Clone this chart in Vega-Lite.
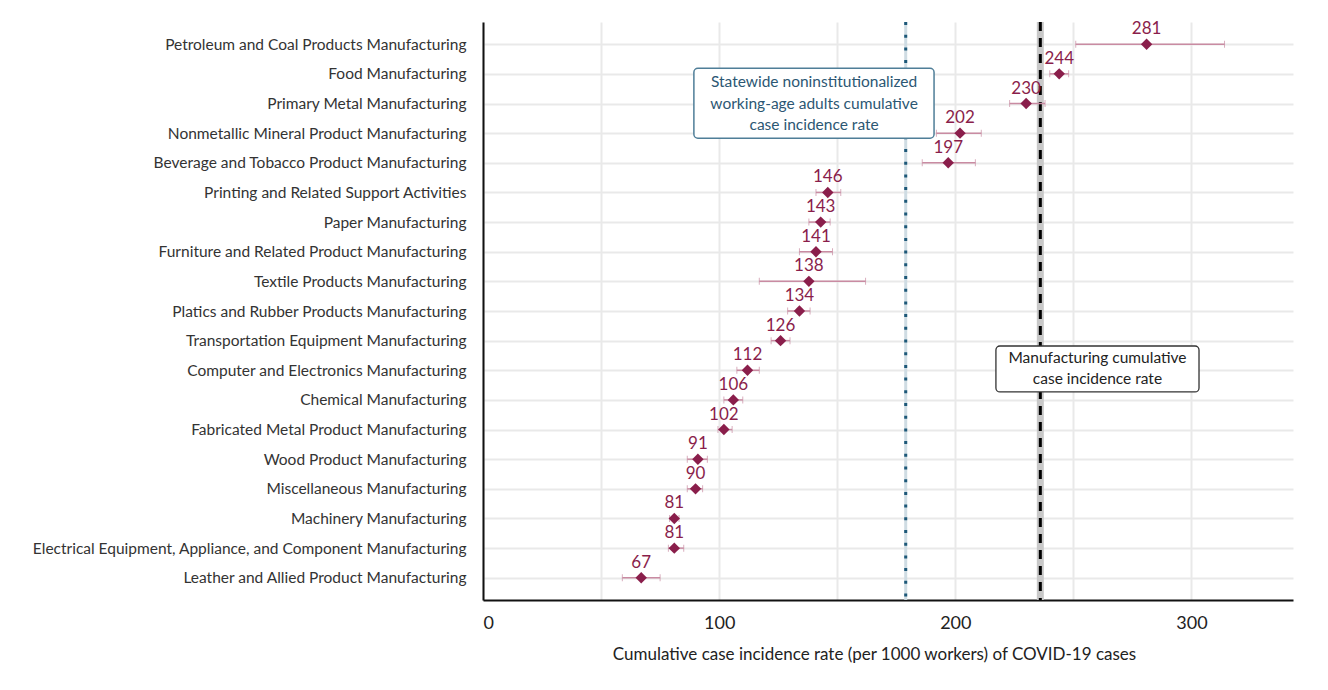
{
  "$schema": "https://vega.github.io/schema/vega-lite/v6.json",
  "autosize": "none",
  "width": 810,
  "height": 578,
  "padding": {"left": 483, "top": 22, "right": 35, "bottom": 90},
  "background": "white",
  "config": {
    "font": "Lato",
    "view": {"stroke": null}
  },
  "datasets": {
    "industries": [
      {"industry": "Petroleum and Coal Products Manufacturing", "rate": 281, "lo": 251, "hi": 314},
      {"industry": "Food Manufacturing", "rate": 244, "lo": 240, "hi": 248},
      {"industry": "Primary Metal Manufacturing", "rate": 230, "lo": 223, "hi": 238},
      {"industry": "Nonmetallic Mineral Product Manufacturing", "rate": 202, "lo": 192, "hi": 211},
      {"industry": "Beverage and Tobacco Product Manufacturing", "rate": 197, "lo": 186, "hi": 208.5},
      {"industry": "Printing and Related Support Activities", "rate": 146, "lo": 141, "hi": 151.5},
      {"industry": "Paper Manufacturing", "rate": 143, "lo": 138, "hi": 147},
      {"industry": "Furniture and Related Product Manufacturing", "rate": 141, "lo": 134, "hi": 148},
      {"industry": "Textile Products Manufacturing", "rate": 138, "lo": 117, "hi": 162},
      {"industry": "Platics and Rubber Products Manufacturing", "rate": 134, "lo": 129, "hi": 138.5},
      {"industry": "Transportation Equipment Manufacturing", "rate": 126, "lo": 122, "hi": 130},
      {"industry": "Computer and Electronics Manufacturing", "rate": 112, "lo": 107.5, "hi": 117},
      {"industry": "Chemical Manufacturing", "rate": 106, "lo": 102, "hi": 110},
      {"industry": "Fabricated Metal Product Manufacturing", "rate": 102, "lo": 99.5, "hi": 105.5},
      {"industry": "Wood Product Manufacturing", "rate": 91, "lo": 86.5, "hi": 95},
      {"industry": "Miscellaneous Manufacturing", "rate": 90, "lo": 86.5, "hi": 93},
      {"industry": "Machinery Manufacturing", "rate": 81, "lo": 79, "hi": 83},
      {"industry": "Electrical Equipment, Appliance, and Component Manufacturing", "rate": 81, "lo": 78.5, "hi": 85},
      {"industry": "Leather and Allied Product Manufacturing", "rate": 67, "lo": 59, "hi": 75}
    ],
    "refs": [
      {"name": "Statewide", "rate": 179},
      {"name": "Manufacturing", "rate": 236}
    ],
    "notes": [
      {"name": "Statewide", "label": "Statewide noninstitutionalized\nworking-age adults cumulative\ncase incidence rate", "xa": 89.3, "xb": 191, "ya": 0.81, "yb": 3.17, "tx": 140.2, "ty": 1.28},
      {"name": "Manufacturing", "label": "Manufacturing cumulative\ncase incidence rate", "xa": 217.2, "xb": 303.2, "ya": 10.18, "yb": 11.73, "tx": 260.2, "ty": 10.58}
    ]
  },
  "layer": [
    {
      "data": {"name": "refs"},
      "layer": [
        {
          "transform": [{"filter": "datum.name === 'Statewide'"}],
          "mark": {"type": "rule", "stroke": "#cfdce3", "strokeWidth": 3},
          "encoding": {
            "x": {"field": "rate", "type": "quantitative", "scale": {"domain": [0, 343], "nice": false, "zero": false},
              "title": "Cumulative case incidence rate (per 1000 workers) of COVID-19 cases",
              "axis": {"values": [0, 50, 100, 150, 200, 250, 300], "labelExpr": "datum.value % 100 === 0 ? datum.label : ''", "grid": true, "gridColor": "#e9e9e9", "gridWidth": 2, "ticks": false, "domainColor": "#111111", "domainWidth": 2, "labelFontSize": 18, "labelColor": "#222222", "labelPadding": 14, "labelFlush": true, "titleFontSize": 17, "titleFontWeight": "normal", "titleColor": "#222222", "titlePadding": 14, "titleX": 391}}
          }
        },
        {
          "transform": [{"filter": "datum.name === 'Statewide'"}],
          "mark": {"type": "rule", "stroke": "#1d5878", "strokeWidth": 3, "strokeDash": [3, 9.7]},
          "encoding": {
            "x": {"field": "rate", "type": "quantitative", "title": "Cumulative case incidence rate (per 1000 workers) of COVID-19 cases"}
          }
        },
        {
          "transform": [{"filter": "datum.name === 'Manufacturing'"}],
          "mark": {"type": "rule", "stroke": "#c8c8c8", "strokeWidth": 7},
          "encoding": {
            "x": {"field": "rate", "type": "quantitative", "title": "Cumulative case incidence rate (per 1000 workers) of COVID-19 cases"}
          }
        },
        {
          "transform": [{"filter": "datum.name === 'Manufacturing'"}],
          "mark": {"type": "rule", "stroke": "#000000", "strokeWidth": 3, "strokeDash": [9, 7]},
          "encoding": {
            "x": {"field": "rate", "type": "quantitative", "title": "Cumulative case incidence rate (per 1000 workers) of COVID-19 cases"}
          }
        }
      ]
    },
    {
      "data": {"name": "industries"},
      "encoding": {
        "y": {"field": "industry", "type": "nominal", "sort": null, "title": null,
          "scale": {"type": "point", "padding": 0.75},
          "axis": {"grid": true, "gridColor": "#e9e9e9", "gridWidth": 2, "ticks": false, "domainColor": "#111111", "domainWidth": 2, "labelFontSize": 15.5, "labelColor": "#333333", "labelPadding": 17, "labelLimit": 600}}
      },
      "layer": [
        {
          "mark": {"type": "errorbar", "ticks": {"size": 7, "strokeWidth": 1.5, "color": "#c98ba2"}, "rule": {"strokeWidth": 1.5, "color": "#c98ba2"}},
          "encoding": {
            "x": {"field": "lo", "type": "quantitative", "title": "Cumulative case incidence rate (per 1000 workers) of COVID-19 cases"},
            "x2": {"field": "hi"}
          }
        },
        {
          "mark": {"type": "point", "shape": "diamond", "filled": true, "size": 130, "color": "#8a1e4b", "opacity": 1},
          "encoding": {
            "x": {"field": "rate", "type": "quantitative", "title": "Cumulative case incidence rate (per 1000 workers) of COVID-19 cases"}
          }
        },
        {
          "mark": {"type": "text", "fontSize": 17, "color": "#8a1e4b", "baseline": "alphabetic", "dy": -10},
          "encoding": {
            "x": {"field": "rate", "type": "quantitative", "title": "Cumulative case incidence rate (per 1000 workers) of COVID-19 cases"},
            "text": {"field": "rate", "type": "quantitative", "format": "d"}
          }
        }
      ]
    },
    {
      "data": {"name": "notes"},
      "encoding": {
        "y": {"field": "ya", "type": "quantitative", "scale": {"domain": [-0.75, 18.75], "reverse": true, "nice": false, "zero": false}, "axis": null}
      },
      "layer": [
        {
          "transform": [{"filter": "datum.name === 'Statewide'"}],
          "mark": {"type": "rect", "fill": "white", "stroke": "#4f7e98", "strokeWidth": 1.5, "cornerRadius": 4},
          "encoding": {
            "x": {"field": "xa", "type": "quantitative", "title": "Cumulative case incidence rate (per 1000 workers) of COVID-19 cases"},
            "x2": {"field": "xb"},
            "y2": {"field": "yb"}
          }
        },
        {
          "transform": [{"filter": "datum.name === 'Manufacturing'"}],
          "mark": {"type": "rect", "fill": "white", "stroke": "#333333", "strokeWidth": 1.3, "cornerRadius": 4},
          "encoding": {
            "x": {"field": "xa", "type": "quantitative", "title": "Cumulative case incidence rate (per 1000 workers) of COVID-19 cases"},
            "x2": {"field": "xb"},
            "y2": {"field": "yb"}
          }
        },
        {
          "transform": [{"filter": "datum.name === 'Statewide'"}],
          "mark": {"type": "text", "lineBreak": "\n", "fontSize": 15.5, "lineHeight": 21.5, "color": "#2c5773", "align": "center", "baseline": "middle"},
          "encoding": {
            "x": {"field": "tx", "type": "quantitative", "title": "Cumulative case incidence rate (per 1000 workers) of COVID-19 cases"},
            "y": {"field": "ty", "type": "quantitative", "scale": {"domain": [-0.75, 18.75], "reverse": true, "nice": false, "zero": false}, "axis": null},
            "text": {"field": "label", "type": "nominal"}
          }
        },
        {
          "transform": [{"filter": "datum.name === 'Manufacturing'"}],
          "mark": {"type": "text", "lineBreak": "\n", "fontSize": 15.5, "lineHeight": 21.5, "color": "#222222", "align": "center", "baseline": "middle"},
          "encoding": {
            "x": {"field": "tx", "type": "quantitative", "title": "Cumulative case incidence rate (per 1000 workers) of COVID-19 cases"},
            "y": {"field": "ty", "type": "quantitative", "scale": {"domain": [-0.75, 18.75], "reverse": true, "nice": false, "zero": false}, "axis": null},
            "text": {"field": "label", "type": "nominal"}
          }
        }
      ]
    }
  ],
  "resolve": {"scale": {"y": "independent"}}
}
